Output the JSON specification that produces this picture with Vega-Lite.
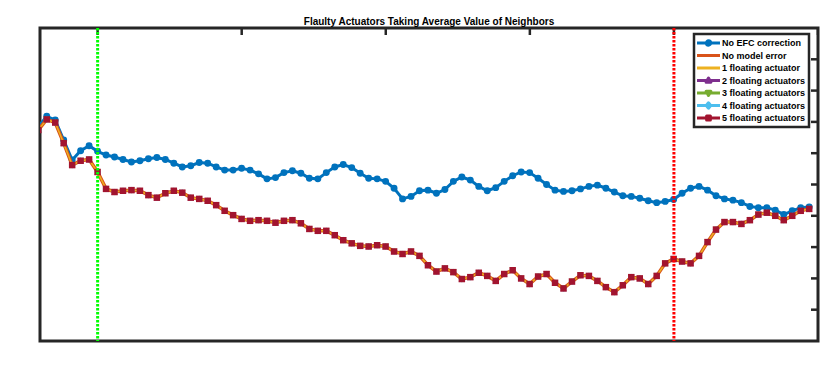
{
  "$schema": "https://vega.github.io/schema/vega-lite/v6.json",
  "width": 778,
  "height": 313,
  "autosize": {"type": "none"},
  "padding": {"left": 40, "top": 28, "right": 12, "bottom": 33},
  "background": "white",
  "title": {"text": "Flaulty Actuators Taking Average Value of Neighbors", "fontSize": 10, "fontWeight": "bold", "font": "Liberation Sans", "color": "#000000", "anchor": "middle", "frame": "group", "offset": 0},
  "data": {"values": [
    {"x": 2.94, "noefc": -4.58, "model": -4.63},
    {"x": 3.234, "noefc": -4.41, "model": -4.46},
    {"x": 3.528, "noefc": -4.47, "model": -4.51},
    {"x": 3.822, "noefc": -4.79, "model": -4.84},
    {"x": 4.116, "noefc": -5.11, "model": -5.19},
    {"x": 4.41, "noefc": -4.96, "model": -5.12},
    {"x": 4.704, "noefc": -4.88, "model": -5.10},
    {"x": 4.998, "noefc": -4.97, "model": -5.30},
    {"x": 5.292, "noefc": -5.03, "model": -5.57},
    {"x": 5.586, "noefc": -5.06, "model": -5.62},
    {"x": 5.88, "noefc": -5.10, "model": -5.60},
    {"x": 6.174, "noefc": -5.14, "model": -5.59},
    {"x": 6.468, "noefc": -5.12, "model": -5.60},
    {"x": 6.762, "noefc": -5.09, "model": -5.67},
    {"x": 7.056, "noefc": -5.07, "model": -5.71},
    {"x": 7.35, "noefc": -5.10, "model": -5.64},
    {"x": 7.644, "noefc": -5.16, "model": -5.60},
    {"x": 7.938, "noefc": -5.22, "model": -5.63},
    {"x": 8.232, "noefc": -5.20, "model": -5.71},
    {"x": 8.526, "noefc": -5.15, "model": -5.73},
    {"x": 8.82, "noefc": -5.16, "model": -5.76},
    {"x": 9.114, "noefc": -5.22, "model": -5.83},
    {"x": 9.408, "noefc": -5.27, "model": -5.92},
    {"x": 9.702, "noefc": -5.27, "model": -5.99},
    {"x": 9.996, "noefc": -5.24, "model": -6.05},
    {"x": 10.29, "noefc": -5.27, "model": -6.08},
    {"x": 10.584, "noefc": -5.33, "model": -6.07},
    {"x": 10.878, "noefc": -5.41, "model": -6.08},
    {"x": 11.172, "noefc": -5.39, "model": -6.11},
    {"x": 11.466, "noefc": -5.31, "model": -6.08},
    {"x": 11.76, "noefc": -5.28, "model": -6.07},
    {"x": 12.054, "noefc": -5.32, "model": -6.12},
    {"x": 12.348, "noefc": -5.40, "model": -6.21},
    {"x": 12.642, "noefc": -5.41, "model": -6.24},
    {"x": 12.936, "noefc": -5.31, "model": -6.24},
    {"x": 13.23, "noefc": -5.22, "model": -6.31},
    {"x": 13.524, "noefc": -5.18, "model": -6.39},
    {"x": 13.818, "noefc": -5.23, "model": -6.44},
    {"x": 14.112, "noefc": -5.32, "model": -6.48},
    {"x": 14.406, "noefc": -5.40, "model": -6.49},
    {"x": 14.7, "noefc": -5.41, "model": -6.47},
    {"x": 14.994, "noefc": -5.45, "model": -6.49},
    {"x": 15.288, "noefc": -5.56, "model": -6.57},
    {"x": 15.582, "noefc": -5.73, "model": -6.61},
    {"x": 15.876, "noefc": -5.69, "model": -6.57},
    {"x": 16.17, "noefc": -5.60, "model": -6.64},
    {"x": 16.464, "noefc": -5.59, "model": -6.79},
    {"x": 16.758, "noefc": -5.64, "model": -6.89},
    {"x": 17.052, "noefc": -5.58, "model": -6.84},
    {"x": 17.346, "noefc": -5.45, "model": -6.90},
    {"x": 17.64, "noefc": -5.38, "model": -7.01},
    {"x": 17.934, "noefc": -5.43, "model": -6.98},
    {"x": 18.228, "noefc": -5.53, "model": -6.91},
    {"x": 18.522, "noefc": -5.60, "model": -6.96},
    {"x": 18.816, "noefc": -5.55, "model": -7.04},
    {"x": 19.11, "noefc": -5.45, "model": -6.93},
    {"x": 19.404, "noefc": -5.36, "model": -6.87},
    {"x": 19.698, "noefc": -5.30, "model": -7.00},
    {"x": 19.992, "noefc": -5.31, "model": -7.09},
    {"x": 20.286, "noefc": -5.40, "model": -6.97},
    {"x": 20.58, "noefc": -5.50, "model": -6.93},
    {"x": 20.874, "noefc": -5.59, "model": -7.07},
    {"x": 21.168, "noefc": -5.61, "model": -7.16},
    {"x": 21.462, "noefc": -5.60, "model": -7.05},
    {"x": 21.756, "noefc": -5.57, "model": -6.95},
    {"x": 22.05, "noefc": -5.53, "model": -6.96},
    {"x": 22.344, "noefc": -5.51, "model": -7.04},
    {"x": 22.638, "noefc": -5.56, "model": -7.14},
    {"x": 22.932, "noefc": -5.62, "model": -7.22},
    {"x": 23.226, "noefc": -5.68, "model": -7.11},
    {"x": 23.52, "noefc": -5.69, "model": -6.98},
    {"x": 23.814, "noefc": -5.72, "model": -7.00},
    {"x": 24.108, "noefc": -5.76, "model": -7.09},
    {"x": 24.402, "noefc": -5.79, "model": -6.96},
    {"x": 24.696, "noefc": -5.77, "model": -6.76},
    {"x": 24.99, "noefc": -5.74, "model": -6.69},
    {"x": 25.284, "noefc": -5.64, "model": -6.73},
    {"x": 25.578, "noefc": -5.56, "model": -6.76},
    {"x": 25.872, "noefc": -5.53, "model": -6.64},
    {"x": 26.166, "noefc": -5.59, "model": -6.42},
    {"x": 26.46, "noefc": -5.68, "model": -6.22},
    {"x": 26.754, "noefc": -5.73, "model": -6.10},
    {"x": 27.048, "noefc": -5.75, "model": -6.10},
    {"x": 27.342, "noefc": -5.79, "model": -6.13},
    {"x": 27.636, "noefc": -5.85, "model": -6.07},
    {"x": 27.93, "noefc": -5.87, "model": -5.98},
    {"x": 28.224, "noefc": -5.87, "model": -5.95},
    {"x": 28.518, "noefc": -5.91, "model": -6.00},
    {"x": 28.812, "noefc": -5.98, "model": -6.07},
    {"x": 29.106, "noefc": -5.92, "model": -6.00},
    {"x": 29.4, "noefc": -5.87, "model": -5.92},
    {"x": 29.694, "noefc": -5.86, "model": -5.89}
  ]},
  "layer": [
    {
      "mark": {"type": "line", "strokeWidth": 3, "clip": true, "point": {"filled": true, "size": 48, "opacity": 1}},
      "encoding": {
        "x": {"field": "x", "type": "quantitative", "scale": {"domain": [3, 30], "nice": false, "zero": false},
              "axis": {"orient": "bottom", "values": [5, 10, 15, 20, 25, 30], "domain": false, "grid": false, "ticks": true, "tickSize": 7, "tickWidth": 2.5, "tickColor": "#262626", "offset": -7, "labelOverlap": false, "labelPadding": 5, "title": "Position in the focal plane (λ/D)", "titlePadding": 4}},
        "y": {"field": "noefc", "type": "quantitative", "scale": {"domain": [-8, -3], "nice": false, "zero": false},
              "axis": {"orient": "left", "values": [-8, -7.5, -7, -6.5, -6, -5.5, -5, -4.5, -4, -3.5, -3], "domain": false, "grid": false, "ticks": true, "tickSize": 7, "tickWidth": 2.5, "tickColor": "#262626", "offset": -7, "labelOverlap": false, "labelExpr": "datum.value + ''", "labelPadding": 4, "title": "log₁₀( Contrast )", "titlePadding": 1}},
        "color": {"datum": "No EFC correction", "type": "nominal",
          "scale": {"domain": ["No EFC correction", "No model error", "1 floating actuator", "2 floating actuators", "3 floating actuators", "4 floating actuators", "5 floating actuators"],
                    "range": ["#0072BD", "#D95319", "#EDB120", "#7E2F8E", "#77AC30", "#4DBEEE", "#A2142F"]},
          "legend": {"title": null, "orient": "none", "legendX": 654, "legendY": 6, "padding": 3, "fillColor": "white", "strokeColor": "#262626",
                     "labelFont": "Liberation Sans", "labelFontWeight": "bold", "labelFontSize": 9, "labelColor": "#000000", "labelOffset": 13, "labelLimit": 200,
                     "symbolSize": 81, "symbolStrokeWidth": 3, "rowPadding": 0.5, "clipHeight": 12,
                     "encode": {
                       "legend": {"update": {"strokeWidth": {"value": 2.5}}},
                       "symbols": {"update": {
                         "shape": {"signal": "datum.value === 'No EFC correction' ? 'M-1.33,0H3.78M1.7,0A0.48,0.48 0 1,1 0.74,0A0.48,0.48 0 1,1 1.7,0Z' : datum.value === '2 floating actuators' ? 'M-1.33,0H3.78M1.22,-0.55L1.75,0.4H0.69Z' : datum.value === '3 floating actuators' ? 'M-1.33,0H3.78M1.22,0.55L1.75,-0.4H0.69Z' : datum.value === '4 floating actuators' ? 'M-1.33,0H3.78M1.22,-0.6L1.7,0L1.22,0.6L0.74,0Z' : datum.value === '5 floating actuators' ? 'M-1.33,0H3.78M0.8,-0.42H1.64V0.42H0.8Z' : 'M-1.33,0H3.78'"},
                         "fill": {"signal": "scale('color', datum.value)"},
                         "stroke": {"signal": "scale('color', datum.value)"},
                         "strokeWidth": {"value": 3},
                         "strokeJoin": {"value": "round"},
                         "opacity": {"value": 1}
                       }}
                     }}}
      }
    },
    {
      "mark": {"type": "line", "strokeWidth": 3.5, "clip": true},
      "encoding": {
        "x": {"field": "x", "type": "quantitative", "axis": null},
        "y": {"field": "model", "type": "quantitative", "axis": null},
        "color": {"datum": "No model error", "type": "nominal"}
      }
    },
    {
      "mark": {"type": "line", "strokeWidth": 1.5, "clip": true},
      "encoding": {
        "x": {"field": "x", "type": "quantitative", "axis": null},
        "y": {"field": "model", "type": "quantitative", "axis": null},
        "color": {"datum": "1 floating actuator", "type": "nominal"}
      }
    },
    {
      "mark": {"type": "point", "filled": true, "shape": "triangle-up", "size": 40, "opacity": 1, "clip": true},
      "encoding": {
        "x": {"field": "x", "type": "quantitative", "axis": null},
        "y": {"field": "model", "type": "quantitative", "axis": null},
        "color": {"datum": "2 floating actuators", "type": "nominal"}
      }
    },
    {
      "mark": {"type": "point", "filled": true, "shape": "triangle-down", "size": 40, "opacity": 1, "clip": true},
      "encoding": {
        "x": {"field": "x", "type": "quantitative", "axis": null},
        "y": {"field": "model", "type": "quantitative", "axis": null},
        "color": {"datum": "3 floating actuators", "type": "nominal"}
      }
    },
    {
      "mark": {"type": "point", "filled": true, "shape": "diamond", "size": 45, "opacity": 1, "clip": true},
      "encoding": {
        "x": {"field": "x", "type": "quantitative", "axis": null},
        "y": {"field": "model", "type": "quantitative", "axis": null},
        "color": {"datum": "4 floating actuators", "type": "nominal"}
      }
    },
    {
      "mark": {"type": "point", "filled": true, "shape": "square", "size": 42, "opacity": 1, "clip": true},
      "encoding": {
        "x": {"field": "x", "type": "quantitative", "axis": null},
        "y": {"field": "model", "type": "quantitative", "axis": null},
        "color": {"datum": "5 floating actuators", "type": "nominal"}
      }
    },
    {
      "data": {"values": [{"t": 5}, {"t": 10}, {"t": 15}, {"t": 20}, {"t": 25}, {"t": 30}]},
      "mark": {"type": "tick", "orient": "vertical", "size": 14, "thickness": 2.5, "color": "#262626", "opacity": 1, "clip": true},
      "encoding": {"x": {"field": "t", "type": "quantitative", "axis": null}, "y": {"datum": -3, "type": "quantitative", "axis": null}}
    },
    {
      "data": {"values": [{"t": -7.5}, {"t": -7}, {"t": -6.5}, {"t": -6}, {"t": -5.5}, {"t": -5}, {"t": -4.5}, {"t": -4}, {"t": -3.5}]},
      "mark": {"type": "tick", "orient": "horizontal", "size": 14, "thickness": 2.5, "color": "#262626", "opacity": 1, "clip": true},
      "encoding": {"y": {"field": "t", "type": "quantitative", "axis": null}, "x": {"datum": 30, "type": "quantitative", "axis": null}}
    },
    {
      "data": {"values": [{"pos": 5}]},
      "mark": {"type": "rule", "color": "#00FF00", "strokeWidth": 3, "strokeDash": [2.5, 1.5]},
      "encoding": {"x": {"field": "pos", "type": "quantitative", "axis": null}}
    },
    {
      "data": {"values": [{"pos": 25}]},
      "mark": {"type": "rule", "color": "#FF0000", "strokeWidth": 3, "strokeDash": [2.5, 1.5]},
      "encoding": {"x": {"field": "pos", "type": "quantitative", "axis": null}}
    }
  ],
  "config": {
    "font": "Liberation Sans",
    "view": {"stroke": "#262626", "strokeWidth": 3},
    "axis": {"labelColor": "#262626", "labelFontSize": 10, "labelFont": "Liberation Sans",
             "titleFont": "Liberation Sans", "titleFontSize": 10, "titleFontWeight": "bold", "titleColor": "#000000"}
  }
}
